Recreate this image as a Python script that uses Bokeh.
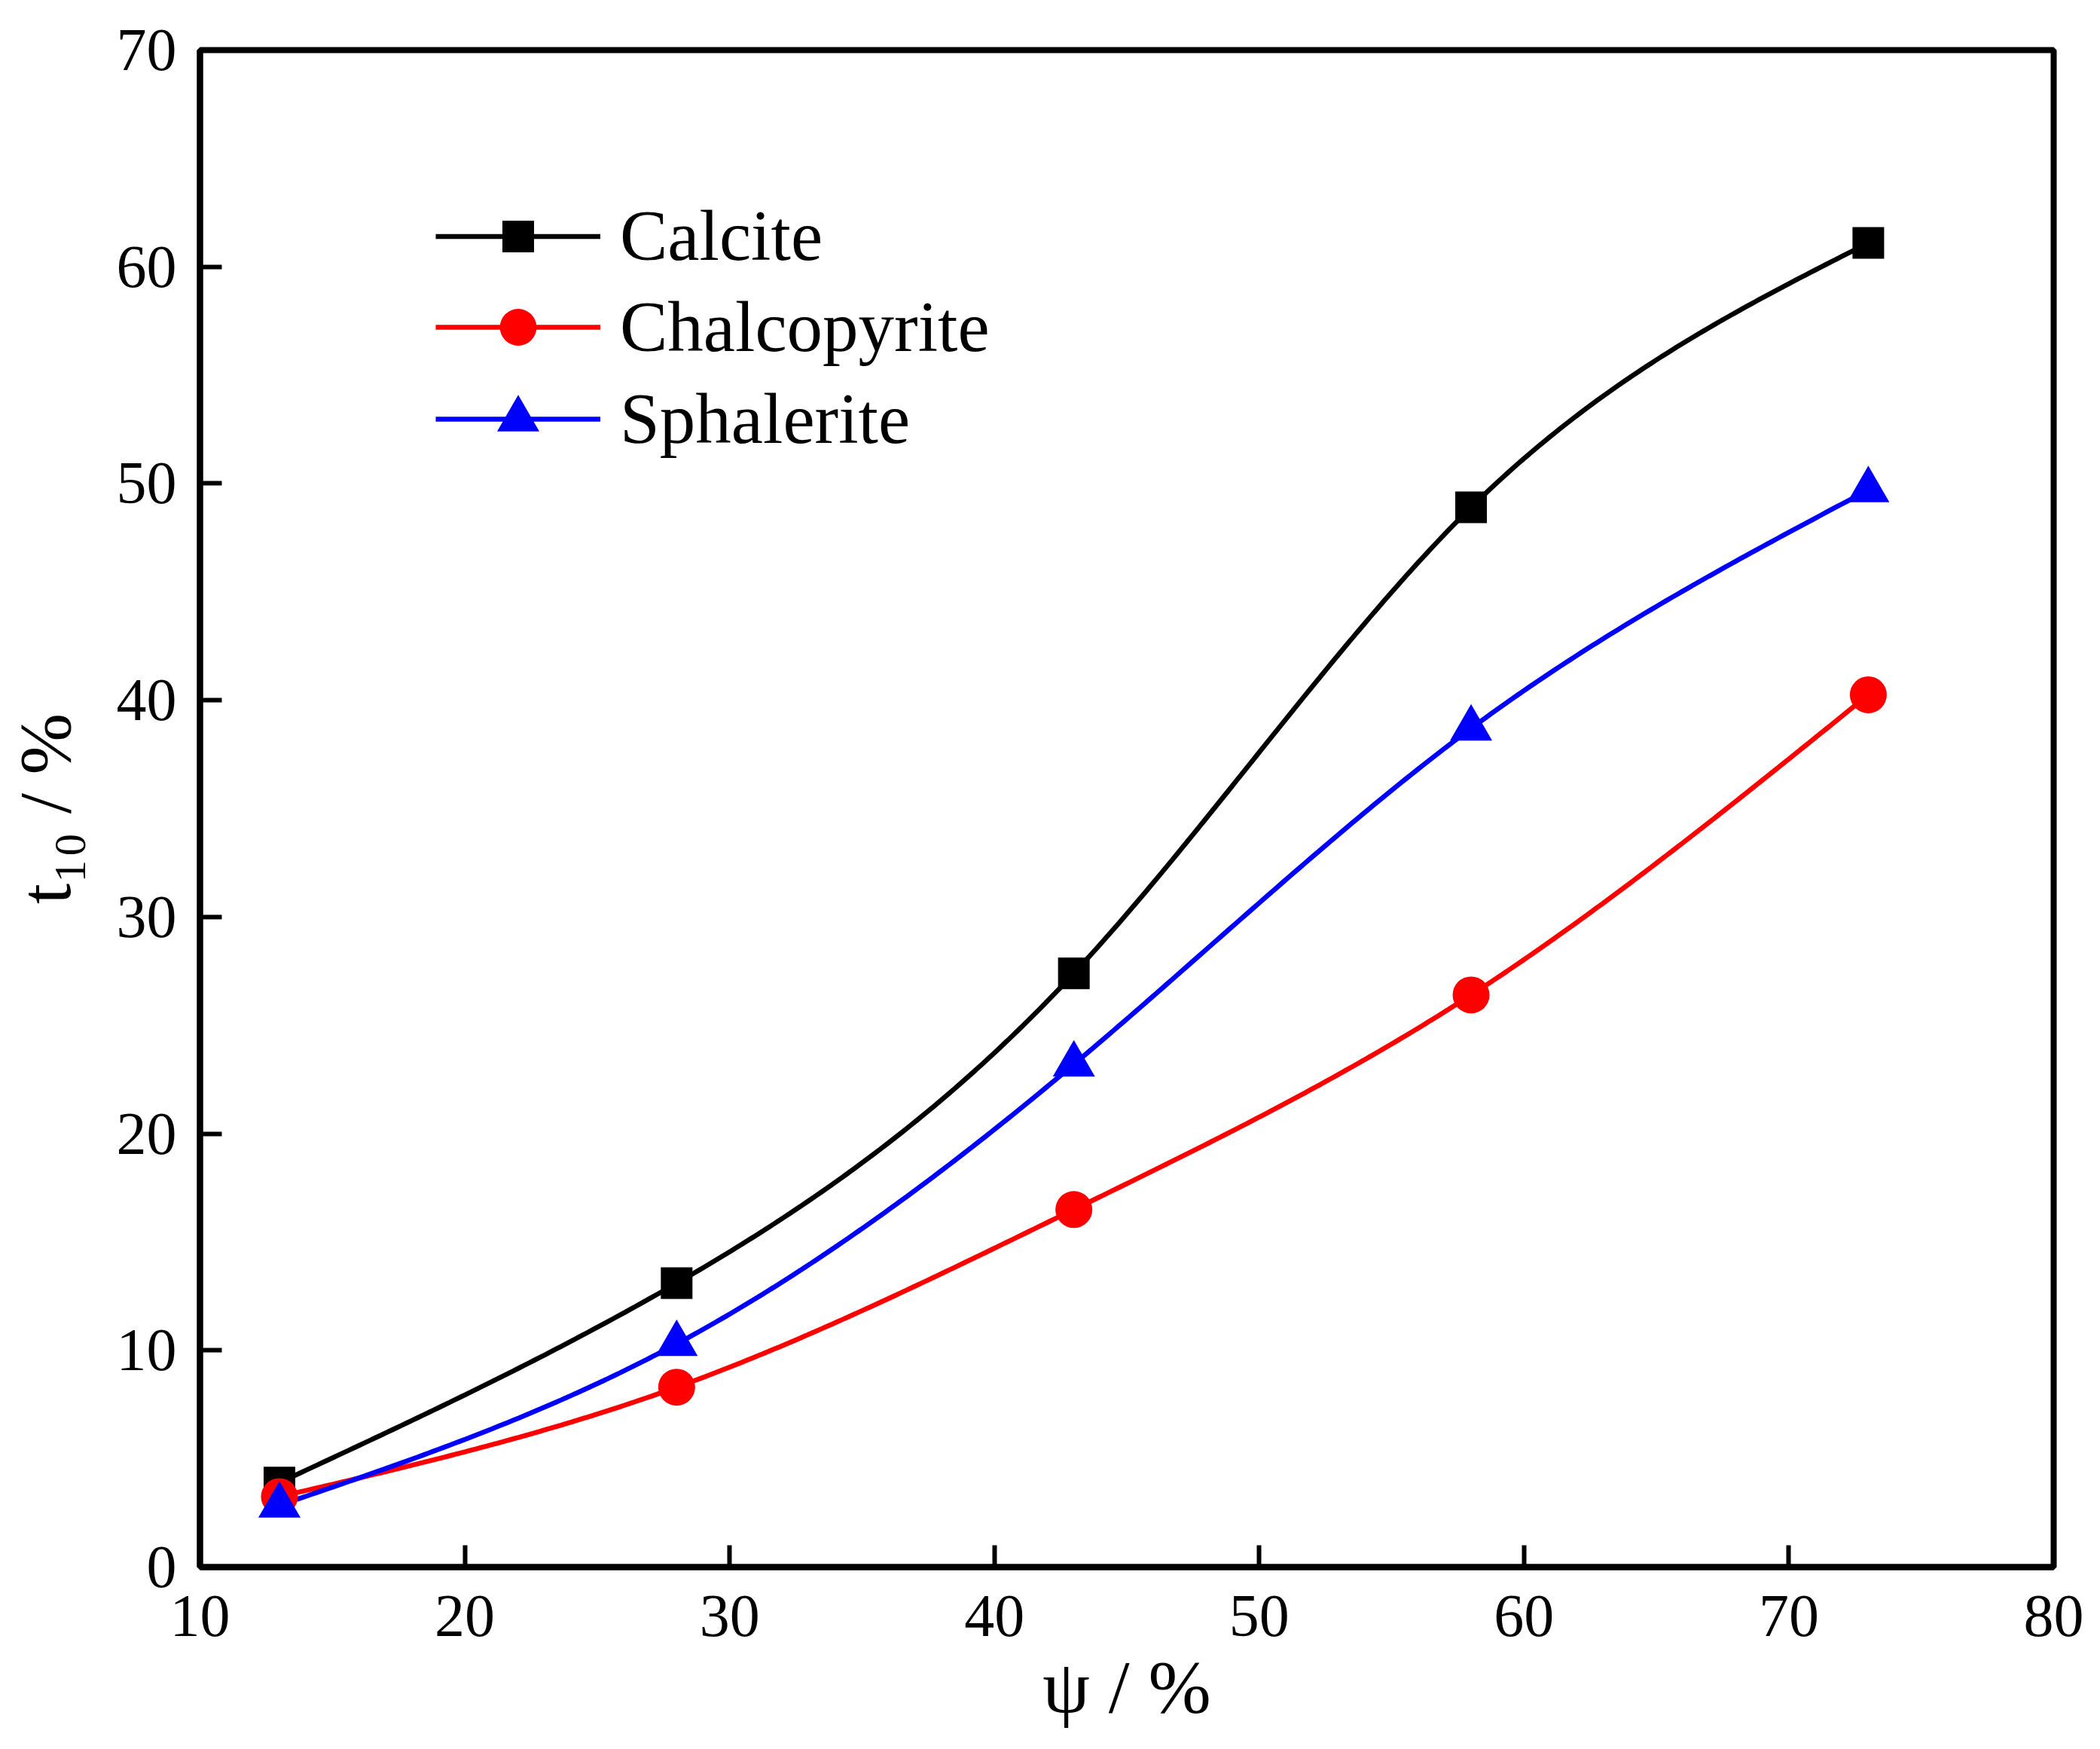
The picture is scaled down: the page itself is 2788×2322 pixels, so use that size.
import numpy as np
from bokeh.plotting import figure
from bokeh.models import Range1d, FixedTicker, Legend, LegendItem
from bokeh.embed import file_html
from bokeh.resources import INLINE

# ---------------- data ----------------
psi = [13, 28, 43, 58, 73]
calcite = [3.9, 13.1, 27.4, 48.9, 61.1]
chalcopyrite = [3.25, 8.3, 16.5, 26.4, 40.25]
sphalerite = [2.85, 10.3, 23.2, 38.7, 49.7]
series_names = ["Calcite", "Chalcopyrite", "Sphalerite"]
x_ticks = [10, 20, 30, 40, 50, 60, 70, 80]
y_ticks = [0, 10, 20, 30, 40, 50, 60, 70]
x_title = "ψ / %"
y_title = "t₁₀ / %"


def natural_spline(x, y, n=300):
    x = np.asarray(x, float)
    y = np.asarray(y, float)
    m = len(x)
    h = np.diff(x)
    A = np.zeros((m, m))
    b = np.zeros(m)
    A[0, 0] = 1.0
    A[-1, -1] = 1.0
    for i in range(1, m - 1):
        A[i, i - 1] = h[i - 1]
        A[i, i] = 2 * (h[i - 1] + h[i])
        A[i, i + 1] = h[i]
        b[i] = 3 * ((y[i + 1] - y[i]) / h[i] - (y[i] - y[i - 1]) / h[i - 1])
    c = np.linalg.solve(A, b)
    bc = (y[1:] - y[:-1]) / h - h * (2 * c[:-1] + c[1:]) / 3
    d = (c[1:] - c[:-1]) / (3 * h)
    xs = np.linspace(x[0], x[-1], n)
    idx = np.clip(np.searchsorted(x, xs, side="right") - 1, 0, m - 2)
    t = xs - x[idx]
    ys = y[idx] + bc[idx] * t + c[idx] * t ** 2 + d[idx] * t ** 3
    return xs, ys


# ---------------- figure geometry ----------------
W, H = 2772, 2306
BL, BR, BT, BB = 265, 46, 66, 226
FONT = "Liberation Serif"

p = figure(width=W, height=H, x_range=Range1d(10, 80), y_range=Range1d(0, 70),
           output_backend="svg", toolbar_location=None,
           min_border_left=BL, min_border_right=BR,
           min_border_top=BT, min_border_bottom=BB)
p.grid.visible = False
p.background_fill_color = "white"
p.border_fill_color = "white"
p.outline_line_color = "black"
p.outline_line_width = 8
p.outline_line_alpha = 1.0

p.xaxis.ticker = FixedTicker(ticks=x_ticks)
p.yaxis.ticker = FixedTicker(ticks=y_ticks)
for ax in (p.xaxis[0], p.yaxis[0]):
    ax.axis_line_width = 8
    ax.axis_line_color = "black"
    ax.major_tick_in = 29
    ax.major_tick_out = 0
    ax.minor_tick_in = 0
    ax.minor_tick_out = 0
    ax.major_tick_line_width = 6
    ax.major_tick_line_color = "black"
    ax.major_label_text_font = FONT
    ax.major_label_text_font_size = "80px"
    ax.major_label_text_color = "black"
    ax.axis_label_text_font = FONT
    ax.axis_label_text_font_style = "normal"
    ax.axis_label_text_color = "black"
p.xaxis.major_label_standoff = 38
p.yaxis.major_label_standoff = 31

p.xaxis.axis_label = x_title
p.xaxis.axis_label_text_font_size = "100px"
p.xaxis.axis_label_standoff = 9
p.yaxis.axis_label = y_title
p.yaxis.axis_label_text_font_size = "98px"
p.yaxis.axis_label_standoff = 38

# ---------------- series ----------------
colors = ["black", "#ff0000", "#0000ff"]
markers = ["square", "circle", "triangle"]
sizes = [42, 49, 56]
values = [calcite, chalcopyrite, sphalerite]

rend = []
for vals, col in zip(values, colors):
    xs, ys = natural_spline(psi, vals)
    ln = p.line(xs, ys, line_width=6.5, line_color=col)
    rend.append([ln])
for i, (vals, col, mk, sz) in enumerate(zip(values, colors, markers, sizes)):
    sc = p.scatter(psi, vals, marker=mk, size=sz, fill_color=col, line_color=col, line_width=0)
    rend[i].append(sc)

# ---------------- legend (one per entry so marker sizes match) ----------------
frame_bottom_page = H - BB
frame_left_page = BL
row_centers_page = [313, 434, 556]
glyph_heights = [105, 122, 140]
for name, rs, gh, cy in zip(series_names, rend, glyph_heights, row_centers_page):
    item_h = max(gh, 110)
    leg = Legend(items=[LegendItem(label=name, renderers=rs)],
                 location=(578 - frame_left_page, frame_bottom_page - cy - item_h / 2),
                 glyph_width=219, glyph_height=gh, label_standoff=26,
                 label_text_font=FONT, label_text_font_size="95px",
                 label_text_color="black",
                 padding=0, margin=0, spacing=0,
                 border_line_color=None, background_fill_alpha=0)
    p.add_layout(leg)

open("out.html", "w").write(file_html(p, INLINE))
